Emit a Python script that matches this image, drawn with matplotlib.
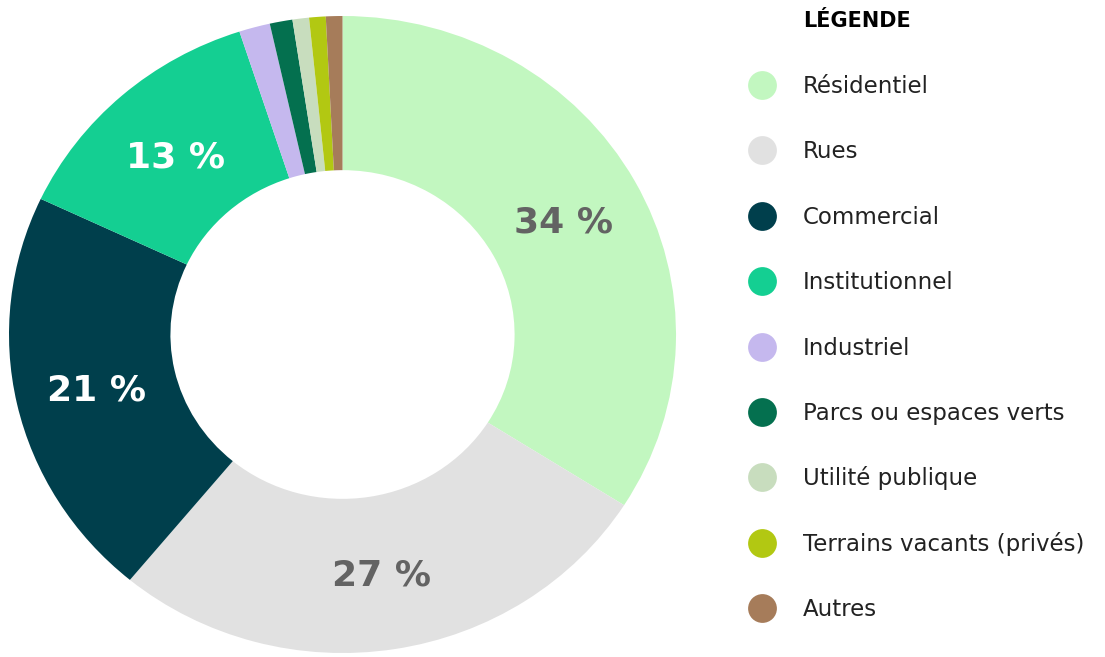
import matplotlib.pyplot as plt

# Data: land use shares (%)
categories = ['Résidentiel', 'Rues', 'Commercial', 'Institutionnel', 'Industriel',
              'Parcs ou espaces verts', 'Utilité publique', 'Terrains vacants (privés)', 'Autres']
values = [34, 27, 21, 13, 1.5, 1.1, 0.8, 0.8, 0.8]
colors = ['#c2f7c0', '#e1e1e1', '#003f4c', '#14cf92', '#c5b8ee',
          '#04704f', '#c8ddbe', '#b2c812', '#a67c5a']
label_colors = ['#636363', '#636363', 'white', 'white']

W, H = 1105, 657
fig = plt.figure(figsize=(W / 100, H / 100), dpi=100)

# Donut (slightly stretched horizontally, as in the original)
cx, cy, rx, ry = 342.5, 334.5, 333.5, 318.5
ax = fig.add_axes([(cx - rx) / W, (H - cy - ry) / H, 2 * rx / W, 2 * ry / H])
wedges, texts, autotexts = ax.pie(
    values, colors=colors, startangle=90, counterclock=False, radius=1,
    wedgeprops=dict(width=0.484, linewidth=0),
    autopct=lambda p: f'{p:.0f} %' if p > 5 else '', pctdistance=0.755)
for i, t in enumerate(autotexts):
    if i < len(label_colors):
        t.set_color(label_colors[i])
    t.set_fontsize(26)
    t.set_fontweight('bold')
    t.set_va('center_baseline')
ax.set_aspect('auto')
ax.set_xlim(-1, 1)
ax.set_ylim(-1, 1)
ax.axis('off')

# Legend drawn on an overlay in pixel coordinates
lax = fig.add_axes([0, 0, 1, 1])
lax.set_xlim(0, W)
lax.set_ylim(H, 0)
lax.axis('off')
lax.text(803, 27, 'LÉGENDE', fontsize=15, fontweight='heavy',
         va='baseline', ha='left', color='black')
y0, dy = 85, 65.4
for i, (name, c) in enumerate(zip(categories, colors)):
    y = y0 + i * dy
    lax.scatter([762], [y], s=430, color=c, linewidths=0)
    lax.text(803, y + 8, name, fontsize=16.5, va='baseline', ha='left',
             color='#222222')

fig.savefig('out.png', dpi=100)
